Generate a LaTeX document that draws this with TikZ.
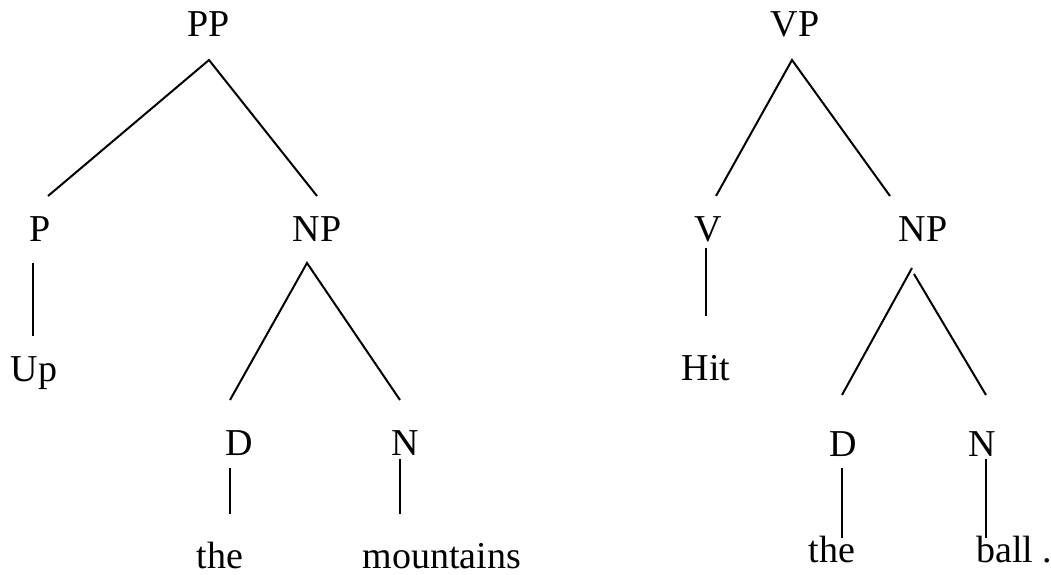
\documentclass[tikz,border=0pt]{standalone}
\usepackage{fontspec}
\setmainfont{Liberation Serif}

\begin{document}
\begin{tikzpicture}[
x=0.5pt, y=-0.5pt,
cat/.style={anchor=base, inner sep=0pt, font=\fontsize{19}{23}\selectfont},
word/.style={anchor=base, inner sep=0pt, font=\fontsize{19}{23}\selectfont},
branch/.style={draw=black, line width=1pt},
]
\useasboundingbox (0,0) rectangle (1051,574);

\node[cat] (PP) at (209,36) {PP};
\node[cat] (P) at (40,241) {P};
\node[cat] (NPa) at (317,241) {NP};
\node[word] (Up) at (34,381) {Up};
\node[cat] (Da) at (239,455) {D};
\node[cat] (Na) at (405,455) {N};
\node[word] (thea) at (220,568) {the};
\node[word] (mountains) at (442,568) {mountains};

\coordinate (PP-foot) at (209,60);
\coordinate (P-head) at (48,196);
\coordinate (NPa-head) at (317,196);
\coordinate (P-foot) at (33,263);
\coordinate (Up-head) at (33,336);
\coordinate (NPa-foot) at (307,263);
\coordinate (Da-head) at (230,400);
\coordinate (Na-head) at (400,400);
\coordinate (Da-foot) at (230,468);
\coordinate (thea-head) at (230,514);
\coordinate (Na-foot) at (400,459);
\coordinate (mountains-head) at (400,514);

\draw[branch] (P-head) -- (PP-foot) -- (NPa-head);
\draw[branch] (P-foot) -- (Up-head);
\draw[branch] (Da-head) -- (NPa-foot) -- (Na-head);
\draw[branch] (Da-foot) -- (thea-head);
\draw[branch] (Na-foot) -- (mountains-head);

\node[cat] (VP) at (795,36) {VP};
\node[cat] (V) at (708,241) {V};
\node[cat] (NPb) at (923,241) {NP};
\node[word] (Hit) at (706,380) {Hit};
\node[cat] (Db) at (843,456) {D};
\node[cat] (Nb) at (982,456) {N};
\node[word] (theb) at (832,562) {the};
\node[word, anchor=base west] (ball) at (976,562) {ball .};

\coordinate (VP-foot) at (792,60);
\coordinate (V-head) at (716,196);
\coordinate (NPb-head) at (890,196);
\coordinate (V-foot) at (706,248);
\coordinate (Hit-head) at (706,316);
\coordinate (NPb-footl) at (912,268);
\coordinate (NPb-footr) at (914,274);
\coordinate (Db-head) at (842,395);
\coordinate (Nb-head) at (986,395);
\coordinate (Db-foot) at (842,468);
\coordinate (theb-head) at (842,538);
\coordinate (Nb-foot) at (986,459);
\coordinate (ball-head) at (986,538);

\draw[branch] (V-head) -- (VP-foot) -- (NPb-head);
\draw[branch] (V-foot) -- (Hit-head);
\draw[branch] (NPb-footl) -- (Db-head);
\draw[branch] (NPb-footr) -- (Nb-head);
\draw[branch] (Db-foot) -- (theb-head);
\draw[branch] (Nb-foot) -- (ball-head);
\end{tikzpicture}
\end{document}
